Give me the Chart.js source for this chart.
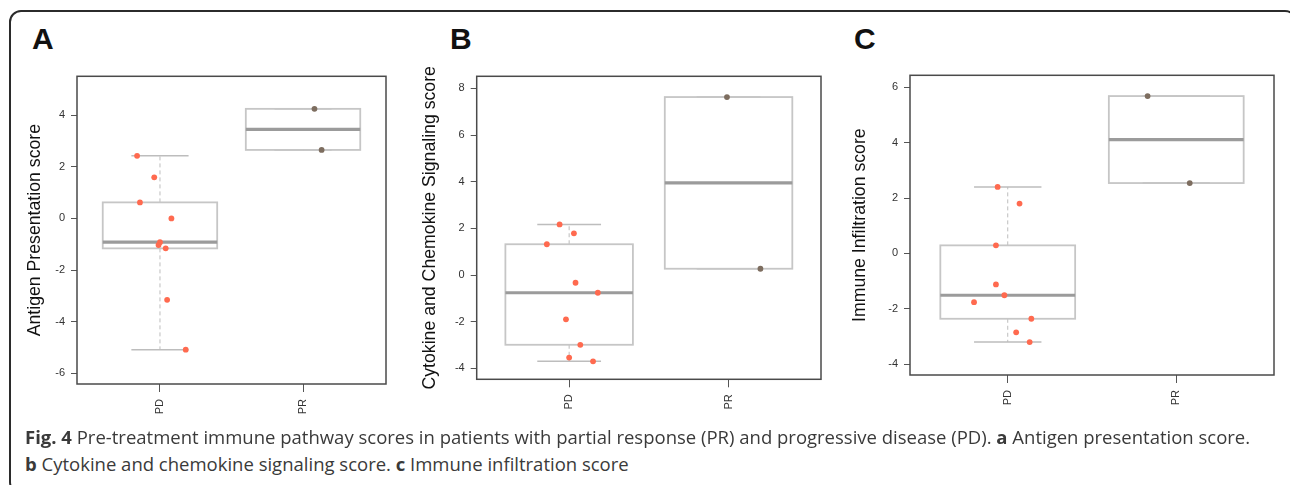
<!DOCTYPE html>
<html>
<head>
<meta charset="utf-8">
<script src="https://cdn.jsdelivr.net/npm/chart.js@4.4.1/dist/chart.umd.min.js"></script>
<style>
  html, body { margin: 0; padding: 0; background: #fff; }
  body { width: 1290px; height: 485px; position: relative; overflow: hidden; }
  .frame { position: absolute; left: 9px; top: 10px; width: 1288px; height: 484px; box-sizing: border-box;
           border: 2px solid #2b2b2b; border-radius: 12px; }
  .tag { position: absolute; top: 24px; font: bold 30px "Liberation Sans", Arial, sans-serif; line-height: 30px; color: #111; }
  canvas { position: absolute; }
  .caption { position: absolute; left: 25px; font-family: "Open Sans", sans-serif; font-size: 18.5px; line-height: 20px;
             color: #3a3a3a; white-space: nowrap; }
</style>
</head>
<body>
<div class="frame"></div>
<div class="tag" style="left:32px">A</div>
<div class="tag" style="left:450px">B</div>
<div class="tag" style="left:854px">C</div>

<canvas id="chartA" width="380" height="370" style="left:20px;top:60px"></canvas>
<canvas id="chartB" width="425" height="370" style="left:410px;top:60px"></canvas>
<canvas id="chartC" width="445" height="370" style="left:840px;top:60px"></canvas>

<div class="caption" style="top:427px"><b>Fig. 4</b> Pre-treatment immune pathway scores in patients with partial response (PR) and progressive disease (PD). <b>a</b> Antigen presentation score.</div>
<div class="caption" style="top:454px"><b>b</b> Cytokine and chemokine signaling score. <b>c</b> Immune infiltration score</div>

<script>
var groups = ['PD', 'PR'];

// A - antigen presentation
var antigenPD = [2.42, 1.59, 0.62, 0.0, -0.92, -1.03, -1.16, -3.15, -5.08];
var antigenPDJitter = [-0.16, -0.04, -0.14, 0.08, 0.0, -0.01, 0.04, 0.05, 0.18];
var antigenPR = [4.24, 2.65];
var antigenPRJitter = [0.08, 0.13];
var antigenTicks = [-6, -4, -2, 0, 2, 4];

// B - cytokine and chemokine signaling
var cytokinePD = [2.17, 1.79, 1.32, -0.33, -0.76, -1.90, -2.99, -3.54, -3.70];
var cytokinePDJitter = [-0.06, 0.03, -0.14, 0.04, 0.18, -0.02, 0.07, 0.0, 0.15];
var cytokinePR = [7.63, 0.27];
var cytokinePRJitter = [-0.01, 0.20];
var cytokineTicks = [-4, -2, 0, 2, 4, 6, 8];

// C - immune infiltration
var infiltrationPD = [2.40, 1.80, 0.29, -1.12, -1.51, -1.76, -2.36, -2.85, -3.20];
var infiltrationPDJitter = [-0.06, 0.07, -0.07, -0.07, -0.02, -0.20, 0.14, 0.05, 0.13];
var infiltrationPR = [5.68, 2.54];
var infiltrationPRJitter = [-0.17, 0.08];
var infiltrationTicks = [-4, -2, 0, 2, 4, 6];

Chart.defaults.font.family = '"Liberation Sans", Arial, sans-serif';

// R style fivenum (Tukey hinges)
function fivenum(vals) {
	var s = vals.slice().sort(function(a, b) { return a - b; });
	var n = s.length;
	var n4 = Math.floor((n + 3) / 2) / 2;
	var d = [1, n4, (n + 1) / 2, n + 1 - n4, n];
	return d.map(function(k) { return 0.5 * (s[Math.floor(k) - 1] + s[Math.ceil(k) - 1]); });
}

// boxes under the points, frame on top
function boxPlugin(sets) {
	return {
		id: 'boxes',
		beforeDatasetsDraw: function(chart) {
			var ctx = chart.ctx, x = chart.scales.x, y = chart.scales.y;
			function line(x1, y1, x2, y2) {
				ctx.beginPath(); ctx.moveTo(x1, y1); ctx.lineTo(x2, y2); ctx.stroke();
			}
			sets.forEach(function(vals, i) {
				var f = fivenum(vals);
				var c = i + 1;
				var left = x.getPixelForValue(c - 0.4), right = x.getPixelForValue(c + 0.4);
				var capL = x.getPixelForValue(c - 0.2), capR = x.getPixelForValue(c + 0.2);
				var mid = x.getPixelForValue(c);
				var p = f.map(function(v) { return y.getPixelForValue(v); });
				ctx.save();
				ctx.strokeStyle = '#bdbdbd';
				ctx.lineWidth = 1;
				ctx.setLineDash([4, 3]);
				line(mid, p[1], mid, p[0]);
				line(mid, p[3], mid, p[4]);
				ctx.setLineDash([]);
				ctx.lineWidth = 1.5;
				line(capL, p[0], capR, p[0]);
				line(capL, p[4], capR, p[4]);
				ctx.strokeStyle = '#c6c6c6';
				ctx.lineWidth = 1.8;
				ctx.strokeRect(left, p[3], right - left, p[1] - p[3]);
				ctx.strokeStyle = '#9b9b9b';
				ctx.lineWidth = 3.2;
				line(left, p[2], right, p[2]);
				ctx.restore();
			});
		},
		afterDatasetsDraw: function(chart) {
			var a = chart.chartArea, ctx = chart.ctx;
			ctx.save();
			ctx.strokeStyle = '#4a4a4a';
			ctx.lineWidth = 1.5;
			ctx.strokeRect(a.left, a.top, a.right - a.left, a.bottom - a.top);
			ctx.restore();
		}
	};
}

function points(vals, jitter, group) {
	return vals.map(function(v, i) { return { x: group + jitter[i], y: v }; });
}

function drawPanel(id, o) {
	new Chart(document.getElementById(id), {
		type: 'scatter',
		data: {
			datasets: [
				{ data: points(o.pd, o.pdJit, 1), backgroundColor: '#ff6a4f', pointRadius: 2.9, borderWidth: 0 },
				{ data: points(o.pr, o.prJit, 2), backgroundColor: '#7d6d5f', pointRadius: 2.9, borderWidth: 0 }
			]
		},
		options: {
			responsive: false,
			animation: false,
			devicePixelRatio: 1,
			layout: { padding: { top: o.padTop, right: o.padRight, left: 0, bottom: 0 } },
			plugins: { legend: { display: false }, tooltip: { enabled: false } },
			scales: {
				x: {
					type: 'linear', min: 0.42, max: 2.58,
					afterBuildTicks: function(s) { s.ticks = groups.map(function(g, i) { return { value: i + 1 }; }); },
					afterFit: function(s) { s.height = o.xH; },
					grid: { drawOnChartArea: false, tickLength: 8, color: '#555', lineWidth: 1 },
					border: { display: false },
					ticks: {
						autoSkip: false, minRotation: 90, maxRotation: 90, padding: 7,
						callback: function(v, i) { return groups[i]; },
						font: { size: 11 }, color: '#333'
					}
				},
				y: {
					min: o.yMin, max: o.yMax,
					afterBuildTicks: function(s) { s.ticks = o.ticks.map(function(v) { return { value: v }; }); },
					afterFit: function(s) { s.width = o.yW; },
					grid: { drawOnChartArea: false, tickLength: 6, color: '#555', lineWidth: 1 },
					border: { display: false },
					ticks: {
						autoSkip: false, padding: 6,
						callback: function(v) { return String(v); },
						font: { size: 11 }, color: '#333'
					},
					title: {
						display: true, text: o.title, color: '#111',
						font: { size: 17.7 }, padding: { top: o.titlePad, bottom: 0 }
					}
				}
			}
		},
		plugins: [boxPlugin([o.pd, o.pr])]
	});
}

drawPanel('chartA', {
	pd: antigenPD, pdJit: antigenPDJitter, pr: antigenPR, prJit: antigenPRJitter, ticks: antigenTicks,
	yMin: -6.41, yMax: 5.50, title: 'Antigen Presentation score',
	padTop: 16.3, padRight: 14, xH: 46, yW: 57, titlePad: 4.4
});
drawPanel('chartB', {
	pd: cytokinePD, pdJit: cytokinePDJitter, pr: cytokinePR, prJit: cytokinePRJitter, ticks: cytokineTicks,
	yMin: -4.47, yMax: 8.52, title: 'Cytokine and Chemokine Signaling score',
	padTop: 16.3, padRight: 14, xH: 50.7, yW: 66.7, titlePad: 9.9
});
drawPanel('chartC', {
	pd: infiltrationPD, pdJit: infiltrationPDJitter, pr: infiltrationPR, prJit: infiltrationPRJitter, ticks: infiltrationTicks,
	yMin: -4.39, yMax: 6.43, title: 'Immune Infiltration score',
	padTop: 15.3, padRight: 11, xH: 55, yW: 70, titlePad: 9.4
});
</script>
</body>
</html>
